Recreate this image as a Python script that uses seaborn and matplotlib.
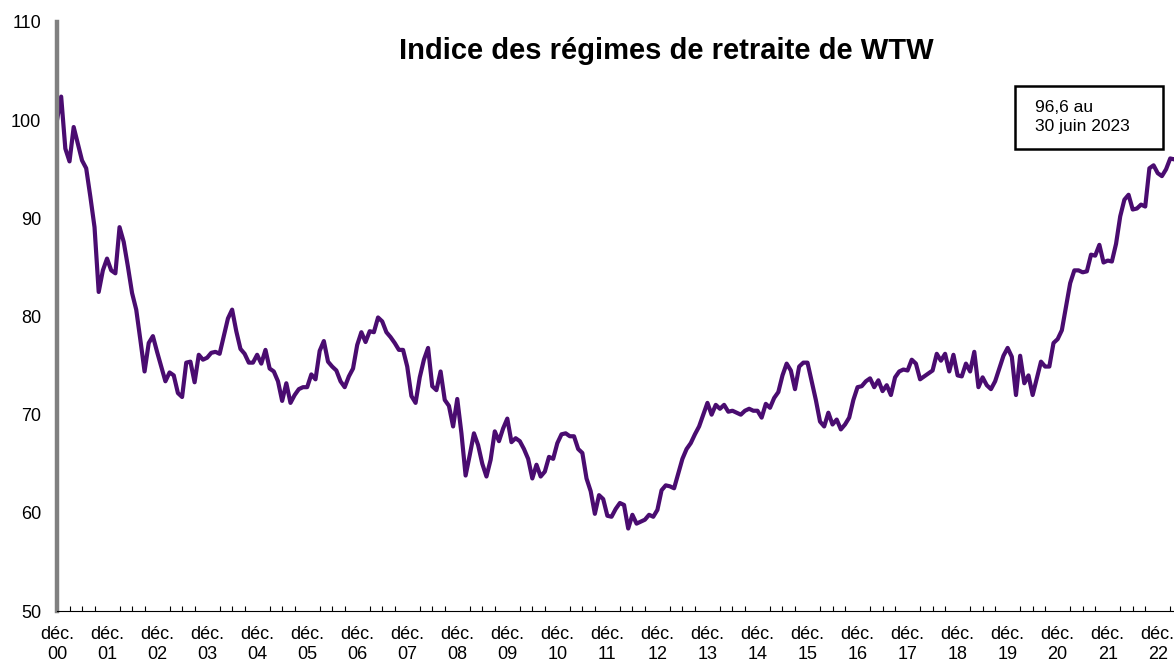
import matplotlib
matplotlib.use("Agg")
import matplotlib.pyplot as plt
import seaborn as sns
import numpy as np
import pandas as pd
from matplotlib.patches import Rectangle
from matplotlib.ticker import MultipleLocator, FixedLocator

# Monthly index values, Dec 2000 -> Jun 2023
values = [
    100.0, 102.4, 97.1, 95.8, 99.3, 97.6, 95.9, 95.1, 92.2, 89.1, 82.5, 84.7,
    85.9, 84.7, 84.4, 89.1, 87.6, 85.1, 82.4, 80.7, 77.6, 74.4, 77.3, 78.0,
    76.4, 74.9, 73.4, 74.3, 74.0, 72.2, 71.8, 75.3, 75.4, 73.3, 76.1, 75.6,
    75.8, 76.3, 76.4, 76.2, 78.0, 79.8, 80.7, 78.5, 76.7, 76.2, 75.3, 75.3,
    76.1, 75.2, 76.6, 74.7, 74.4, 73.4, 71.4, 73.2, 71.2, 72.0, 72.6, 72.8,
    72.8, 74.1, 73.6, 76.5, 77.5, 75.4, 74.9, 74.5, 73.4, 72.8, 73.9, 74.7,
    77.1, 78.4, 77.4, 78.5, 78.4, 79.9, 79.5, 78.4, 77.9, 77.3, 76.6, 76.6,
    74.9, 71.9, 71.2, 73.8, 75.6, 76.8, 72.9, 72.5, 74.4, 71.5, 70.9, 68.8,
    71.6, 68.1, 63.8, 65.9, 68.1, 66.9, 65.0, 63.7, 65.4, 68.3, 67.3, 68.6,
    69.6, 67.2, 67.6, 67.3, 66.5, 65.5, 63.5, 64.9, 63.7, 64.2, 65.7, 65.5,
    67.1, 68.0, 68.1, 67.8, 67.8, 66.5, 66.1, 63.5, 62.2, 59.9, 61.8, 61.4,
    59.7, 59.6, 60.4, 61.0, 60.8, 58.4, 59.8, 58.9, 59.1, 59.3, 59.8, 59.6,
    60.3, 62.3, 62.8, 62.7, 62.5, 64.0, 65.5, 66.5, 67.1, 68.0, 68.8, 70.0,
    71.2, 70.0, 71.0, 70.6, 71.0, 70.3, 70.4, 70.2, 70.0, 70.4, 70.6, 70.4,
    70.4, 69.7, 71.1, 70.7, 71.7, 72.3, 74.0, 75.2, 74.5, 72.6, 74.9, 75.3,
    75.3, 73.4, 71.5, 69.3, 68.8, 70.2, 69.0, 69.5, 68.5, 69.0, 69.7, 71.5,
    72.8, 72.9, 73.4, 73.7, 72.8, 73.5, 72.4, 73.0, 72.0, 73.8, 74.4, 74.6,
    74.5, 75.6, 75.2, 73.6, 73.9, 74.2, 74.5, 76.2, 75.5, 76.2, 74.4, 76.1,
    74.0, 73.9, 75.2, 74.4, 76.4, 72.8, 73.8, 73.0, 72.6, 73.4, 74.7, 76.0,
    76.8, 75.9, 72.0, 76.0, 73.2, 74.0, 72.0, 73.7, 75.4, 74.9, 74.9, 77.3,
    77.7, 78.6, 81.0, 83.4, 84.7, 84.7, 84.5, 84.6, 86.3, 86.2, 87.3, 85.5,
    85.7, 85.6, 87.4, 90.2, 91.9, 92.4, 90.9, 91.0, 91.4, 91.2, 95.1, 95.4,
    94.6, 94.3, 95.0, 96.1, 96.0, 96.3, 96.6,
]
months = list(range(len(values)))  # 0 = Dec 2000
tick_years = ["00", "01", "02", "03", "04", "05", "06", "07", "08", "09", "10",
              "11", "12", "13", "14", "15", "16", "17", "18", "19", "20", "21", "22"]
tick_labels = ["déc.\n" + y for y in tick_years]
title = "Indice des régimes de retraite de WTW"
note = "96,6 au\n30 juin 2023"

df = pd.DataFrame({"month": months, "value": values})

sns.set_theme(style="white")
plt.rcParams["font.family"] = ["Liberation Sans", "DejaVu Sans"]

W, H = 1174, 663
fig = plt.figure(figsize=(W / 100, H / 100), dpi=100)
ax = fig.add_axes([57 / W, 1 - 611 / H, 1 - 57 / W, (611 - 22) / H])

sns.lineplot(data=df, x="month", y="value", ax=ax, color="#4a0c70",
             linewidth=3.0)

ax.set_xlim(0, 267.9)
ax.set_ylim(50, 110)
ax.set_xlabel("")
ax.set_ylabel("")

ax.yaxis.set_major_locator(MultipleLocator(10))
ax.set_xticks(list(range(0, 265, 12)))
ax.set_xticklabels(tick_labels)
ax.xaxis.set_minor_locator(FixedLocator([m for m in range(0, 268, 3) if m % 12 != 0]))

for s in ["top", "right"]:
    ax.spines[s].set_visible(False)
ax.spines["left"].set_color("#808080")
ax.spines["left"].set_linewidth(3.2)
ax.spines["bottom"].set_color("black")
ax.spines["bottom"].set_linewidth(0.8)

ax.tick_params(axis="y", which="major", direction="out", length=3.5, width=3,
               color="#808080", labelsize=13, labelcolor="black", pad=8)
ax.tick_params(axis="x", which="major", direction="inout", length=7.5, width=0.8,
               color="black", labelsize=13, labelcolor="black", pad=7)
ax.tick_params(axis="x", which="minor", direction="in", length=3.5, width=0.8,
               color="black", bottom=True)
for lab in ax.get_xticklabels():
    lab.set_linespacing(1.2)

ax.grid(False)

fig.text(666 / W, 1 - 51 / H, title, ha="center", va="center",
         fontsize=21, fontweight="bold", color="black")

box = Rectangle((1015 / W, 1 - 149 / H), 148 / W, 63 / H,
                transform=fig.transFigure, fill=False, edgecolor="black",
                linewidth=1.8)
fig.patches.append(box)
fig.text(1035 / W, 1 - 117 / H, note, ha="left", va="center",
         fontsize=12.5, color="black", linespacing=1.35)

fig.savefig("out.png", dpi=100)
